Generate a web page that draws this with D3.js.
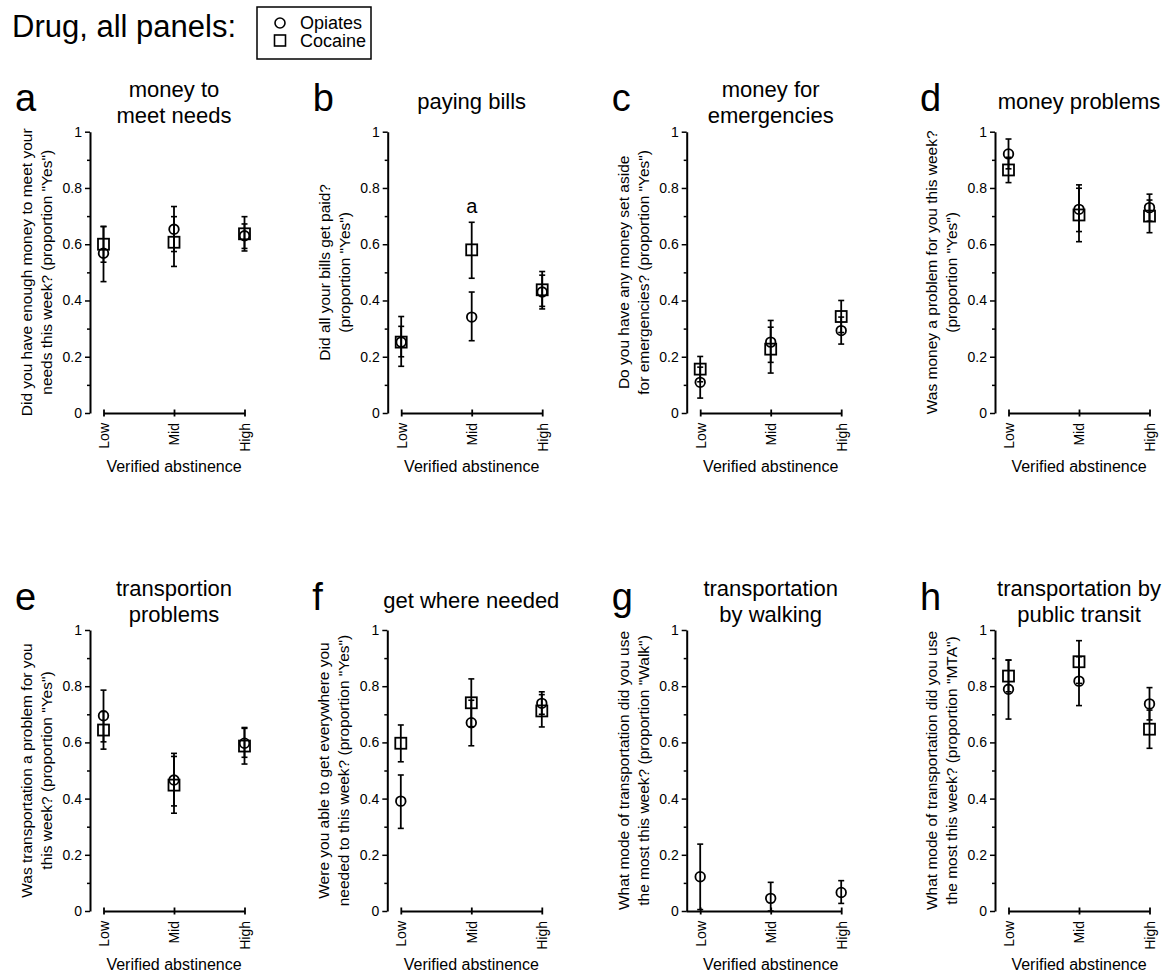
<!DOCTYPE html>
<html>
<head>
<meta charset="utf-8">
<script src="https://cdn.jsdelivr.net/npm/d3@7"></script>
<style>
body { margin: 0; background: #fff; }
svg text { font-family: "Liberation Sans", Arial, sans-serif; fill: #000; }
</style>
</head>
<body>
<div id="chart"></div>
<script>
// ---- data ----
var levels = ["Low", "Mid", "High"];
var panelLetters = ["a", "b", "c", "d", "e", "f", "g", "h"];
var panelTitles = [
	["money to", "meet needs"], ["paying bills"], ["money for", "emergencies"], ["money problems"],
	["transportion", "problems"], ["get where needed"], ["transportation", "by walking"], ["transportation by", "public transit"]
];
var yLabels = [
	["Did you have enough money to meet your", "needs this week? (proportion \"Yes\")"],
	["Did all your bills get paid?", "(proportion \"Yes\")"],
	["Do you have any money set aside", "for emergencies? (proportion \"Yes\")"],
	["Was money a problem for you this week?", "(proportion \"Yes\")"],
	["Was transportation a problem for you", "this week? (proportion \"Yes\")"],
	["Were you able to get everywhere you", "needed to this week? (proportion \"Yes\")"],
	["What mode of transportation did you use", "the most this week? (proportion \"Walk\")"],
	["What mode of transportation did you use", "the most this week? (proportion \"MTA\")"]
];
var yTickValues = [0, 0.2, 0.4, 0.6, 0.8, 1];
var yTickLabels = ["0", "0.2", "0.4", "0.6", "0.8", "1"];
var yMinorTicks = [0.1, 0.3, 0.5, 0.7, 0.9];

// opiates (circles)
var opiMean = [
	[0.568, 0.653, 0.630], [0.252, 0.341, 0.430], [0.109, 0.252, 0.293], [0.921, 0.724, 0.730],
	[0.695, 0.466, 0.597], [0.391, 0.670, 0.739], [0.122, 0.045, 0.066], [0.789, 0.818, 0.737]
];
var opiLow = [
	[0.467, 0.574, 0.585], [0.200, 0.257, 0.379], [0.053, 0.180, 0.245], [0.868, 0.645, 0.682],
	[0.602, 0.374, 0.547], [0.294, 0.588, 0.700], [0.005, 0.000, 0.027], [0.683, 0.731, 0.680]
];
var opiHigh = [
	[0.663, 0.734, 0.672], [0.308, 0.430, 0.490], [0.163, 0.329, 0.341], [0.974, 0.811, 0.778],
	[0.786, 0.561, 0.653], [0.484, 0.750, 0.780], [0.238, 0.102, 0.108], [0.893, 0.905, 0.795]
];
// cocaine (squares); panel g has none
var cocMean = [
	[0.600, 0.607, 0.637], [0.252, 0.580, 0.438], [0.156, 0.227, 0.343], [0.864, 0.704, 0.700],
	[0.644, 0.448, 0.587], [0.597, 0.741, 0.712], null, [0.836, 0.887, 0.647]
];
var cocLow = [
	[0.536, 0.521, 0.576], [0.166, 0.479, 0.370], [0.111, 0.142, 0.286], [0.819, 0.609, 0.641],
	[0.576, 0.348, 0.523], [0.531, 0.656, 0.655], null, [0.780, 0.810, 0.579]
];
var cocHigh = [
	[0.663, 0.698, 0.698], [0.343, 0.678, 0.503], [0.201, 0.305, 0.400], [0.909, 0.799, 0.757],
	[0.710, 0.550, 0.650], [0.662, 0.826, 0.770], null, [0.893, 0.962, 0.715]
];
// significance mark in panel b
var notes = [{ panel: 1, level: "Mid", value: 0.71, text: "a" }];

// ---- layout ----
var axisXs = [90, 387.7, 686.7, 995, 90, 387.3, 686.7, 995];
var rowTop = [131.7, 630];
var rowBottom = [413, 911];
var titleY = [97, 596];
var letterY = [111, 610];

var svg = d3.select("#chart").append("svg")
	.attr("width", 1170)
	.attr("height", 975);

// header + legend
svg.append("text").attr("x", 12).attr("y", 37).style("font-size", "31px").text("Drug, all panels:");
svg.append("rect").attr("x", 257).attr("y", 7).attr("width", 114).attr("height", 52)
	.attr("fill", "none").attr("stroke", "#000").attr("stroke-width", 1.5);
svg.append("circle").attr("cx", 280).attr("cy", 23).attr("r", 5)
	.attr("fill", "none").attr("stroke", "#000").attr("stroke-width", 1.6);
svg.append("rect").attr("x", 274.5).attr("y", 35).attr("width", 11).attr("height", 11)
	.attr("fill", "none").attr("stroke", "#000").attr("stroke-width", 1.6);
svg.append("text").attr("x", 300).attr("y", 29).style("font-size", "18px").text("Opiates");
svg.append("text").attr("x", 300).attr("y", 47).style("font-size", "18px").text("Cocaine");

panelLetters.forEach(function(letter, p) {
	var row = p < 4 ? 0 : 1;
	var ax = axisXs[p];
	var x = d3.scalePoint().domain(levels).range([ax + 13.5, ax + 154.5]);
	var y = d3.scaleLinear().domain([0, 1]).range([rowBottom[row], rowTop[row]]);
	var g = svg.append("g");

	// panel letter
	g.append("text").attr("x", ax - 75).attr("y", letterY[row])
		.style("font-size", "38px").text(letter);

	// title
	var lines = panelTitles[p];
	lines.forEach(function(t, i) {
		g.append("text")
			.attr("x", x("Mid"))
			.attr("y", lines.length == 2 ? titleY[row] + 26 * i : titleY[row] + 12)
			.attr("text-anchor", "middle")
			.style("font-size", "22px")
			.text(t);
	});

	// y axis
	var yAxis = g.append("g").attr("transform", "translate(" + ax + ",0)")
		.call(d3.axisLeft(y).tickValues(yTickValues)
			.tickFormat(function(d, i) { return yTickLabels[i]; })
			.tickSize(5).tickPadding(3).tickSizeOuter(0));
	yAxis.select(".domain").attr("stroke-width", 2);
	yAxis.selectAll(".tick line").attr("stroke-width", 1.5);
	yAxis.selectAll("text").style("font-size", "14px");

	var yMinor = g.append("g").attr("transform", "translate(" + ax + ",0)")
		.call(d3.axisLeft(y).tickValues(yMinorTicks).tickFormat("").tickSize(3).tickSizeOuter(0));
	yMinor.select(".domain").remove();
	yMinor.selectAll(".tick line").attr("stroke-width", 1.5);

	// y label, two lines
	var midY = (rowTop[row] + rowBottom[row]) / 2;
	yLabels[p].forEach(function(t, i) {
		g.append("text")
			.attr("transform", "translate(" + (ax - 58 + 20 * i) + "," + midY + ") rotate(-90)")
			.attr("text-anchor", "middle")
			.style("font-size", "15.5px")
			.text(t);
	});

	// x axis
	var xAxis = g.append("g").attr("transform", "translate(0," + y(0) + ")")
		.call(d3.axisBottom(x).tickSize(3.5).tickSizeOuter(0));
	xAxis.select(".domain").attr("stroke-width", 2);
	xAxis.selectAll(".tick line").attr("y1", -3.5).attr("y2", 3.5).attr("stroke-width", 1.8);
	xAxis.selectAll("text")
		.attr("transform", "rotate(-90)")
		.attr("x", -10).attr("y", 0).attr("dy", "0.35em")
		.style("text-anchor", "end")
		.style("font-size", "14px");
	if (letter == "g") {
		g.append("line").attr("x1", ax).attr("x2", x("Low"))
			.attr("y1", y(0) + 0.5).attr("y2", y(0) + 0.5)
			.attr("stroke", "#000").attr("stroke-width", 2);
	}

	g.append("text")
		.attr("x", x("Mid"))
		.attr("y", rowBottom[row] + 59)
		.attr("text-anchor", "middle")
		.style("font-size", "16px")
		.text("Verified abstinence");

	// error bars and markers
	var series = [
		{ mean: opiMean[p], lo: opiLow[p], hi: opiHigh[p], shape: "circle" },
		{ mean: cocMean[p], lo: cocLow[p], hi: cocHigh[p], shape: "square" }
	];
	series.forEach(function(s) {
		if (!s.mean) return;
		levels.forEach(function(lv, i) {
			var cx = x(lv);
			g.append("line").attr("x1", cx).attr("x2", cx)
				.attr("y1", y(s.lo[i])).attr("y2", y(s.hi[i]))
				.attr("stroke", "#000").attr("stroke-width", 1.8);
			[s.lo[i], s.hi[i]].forEach(function(v) {
				g.append("line").attr("x1", cx - 3).attr("x2", cx + 3)
					.attr("y1", y(v)).attr("y2", y(v))
					.attr("stroke", "#000").attr("stroke-width", 1.6);
			});
			if (s.shape == "circle") {
				g.append("circle").attr("cx", cx).attr("cy", y(s.mean[i])).attr("r", 4.8)
					.attr("fill", "none").attr("stroke", "#000").attr("stroke-width", 1.8);
			} else {
				g.append("rect").attr("x", cx - 5.5).attr("y", y(s.mean[i]) - 5.5)
					.attr("width", 11).attr("height", 11)
					.attr("fill", "none").attr("stroke", "#000").attr("stroke-width", 1.8);
			}
		});
	});

	notes.filter(function(n) { return n.panel == p; }).forEach(function(n) {
		g.append("text").attr("x", x(n.level)).attr("y", y(n.value))
			.attr("text-anchor", "middle").style("font-size", "20px").text(n.text);
	});
});
</script>
</body>
</html>
